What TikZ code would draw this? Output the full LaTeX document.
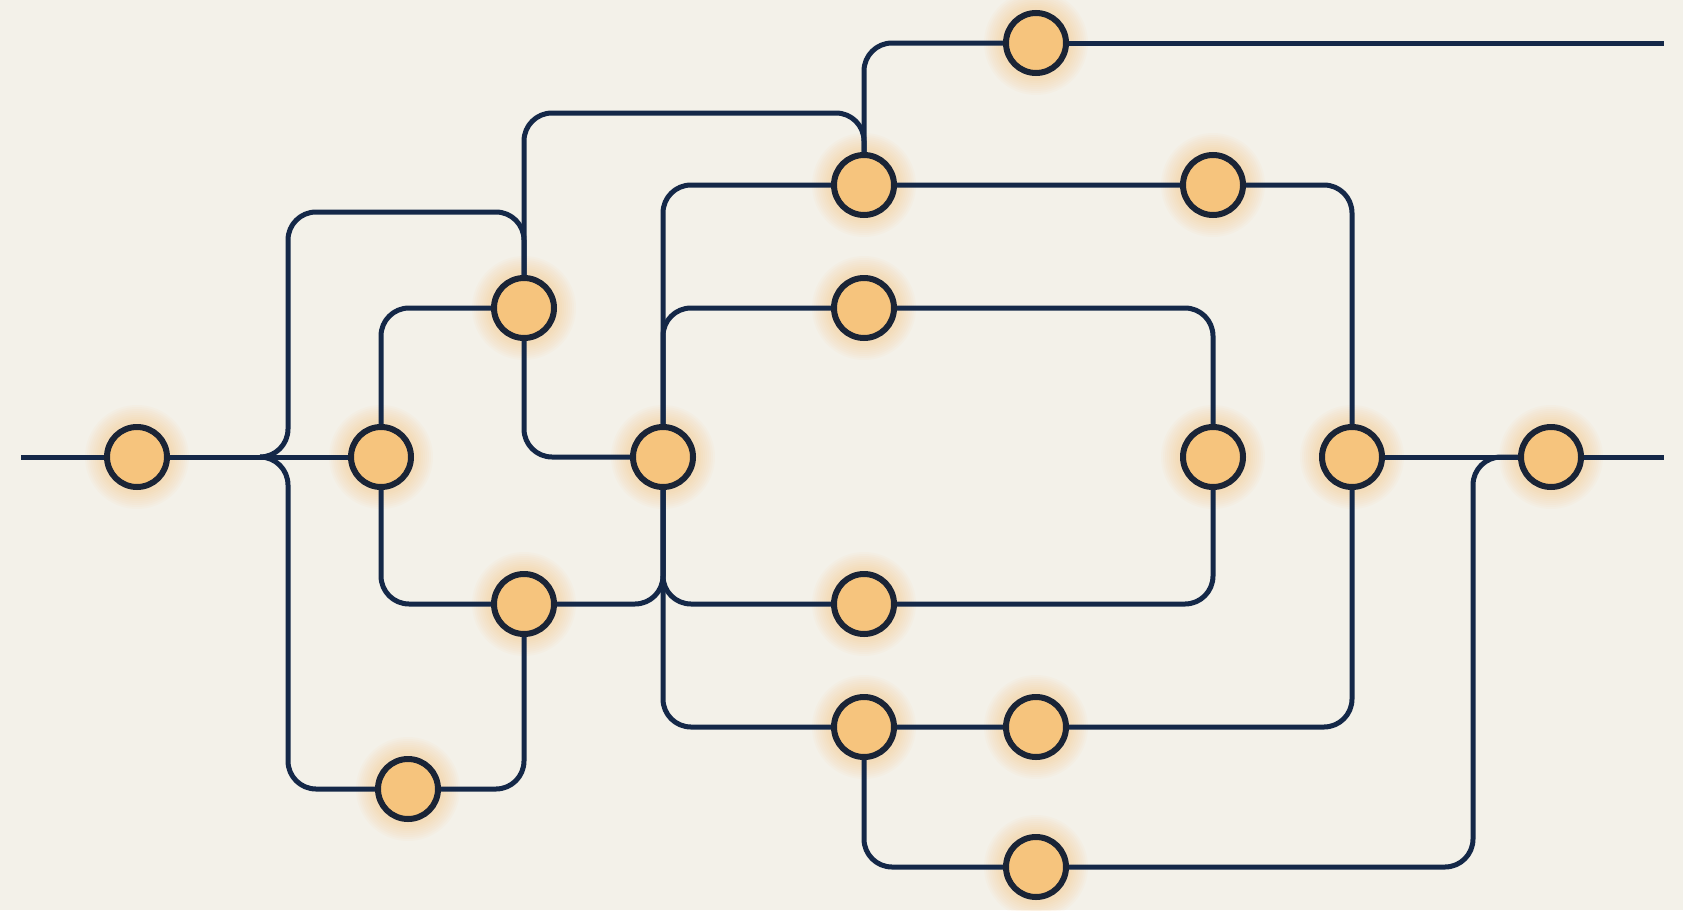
\documentclass[tikz,border=0pt]{standalone}
\usepackage{xcolor}
\usetikzlibrary{backgrounds}

\definecolor{bgcream}{RGB}{243,241,233}
\definecolor{linenavy}{RGB}{20,40,72}
\definecolor{stopfill}{RGB}{246,196,125}
\definecolor{stopedge}{RGB}{26,36,54}
\definecolor{stopglow}{RGB}{247,186,100}

\begin{document}
\begin{tikzpicture}[x=1pt,y=-1pt,
    station/.style={circle,draw=stopedge,fill=stopfill,line width=6pt,minimum size=60pt,inner sep=0pt},
    track/.style={draw=linenavy,line width=5pt,rounded corners=28pt}]
  \useasboundingbox (0,0) rectangle (1683,910);

  % stations
  \node[station] (A) at (137,457) {};
  \node[station] (B) at (381,457) {};
  \node[station] (C) at (524,308) {};
  \node[station] (D) at (524,604) {};
  \node[station] (E) at (408,789) {};
  \node[station] (F) at (663,457) {};
  \node[station] (G) at (864,185) {};
  \node[station] (H) at (1036,43) {};
  \node[station] (I) at (1213,185) {};
  \node[station] (J) at (864,308) {};
  \node[station] (K) at (1213,457) {};
  \node[station] (L) at (864,604) {};
  \node[station] (M) at (864,727) {};
  \node[station] (N) at (1036,727) {};
  \node[station] (O) at (1036,867) {};
  \node[station] (P) at (1352,457) {};
  \node[station] (Q) at (1551,457) {};

  % free ends and bends
  \coordinate (in) at (21,457);
  \coordinate (out) at (1664,457);
  \coordinate (outtop) at (1664,43);
  \coordinate (split) at (260,457);
  \coordinate (loopup) at (288,212);
  \coordinate (loopdown) at (288,789);
  \coordinate (bridge) at (864,113);
  \coordinate (merge) at (1473,457);

  % glow
  \begin{scope}[on background layer]
    \fill[bgcream] (0,0) rectangle (1683,910);
    \foreach \n in {A,...,Q} {
      \foreach \r in {36,38,...,52}
        \fill[stopglow,opacity=0.045] (\n.center) circle[radius=\r pt];
    }
  \end{scope}

  % tracks
  \draw[track] (in) -- (A) -- (B);
  \draw[track] (split) -| (loopup) -| (C);
  \draw[track] (split) -| (loopdown) -- (E);
  \draw[track] (C) |- (bridge) -- (G);
  \draw[track] (G) |- (H);
  \draw[track] (H) -- (outtop);
  \draw[track] (C) -| (B);
  \draw[track] (B) |- (D);
  \draw[track] (C) |- (F);
  \draw[track] (E) -| (D);
  \draw[track] (D) -| (F);
  \draw[track] (F) |- (G);
  \draw[track] (F) |- (J);
  \draw[track] (F) |- (L);
  \draw[track] (F) |- (M);
  \draw[track] (G) -- (I) -| (P);
  \draw[track] (J) -| (K) |- (L);
  \draw[track] (M) -- (N) -| (P);
  \draw[track] (M) |- (O) -| (merge) -- (Q);
  \draw[track] (P) -- (Q) -- (out);
\end{tikzpicture}
\end{document}
